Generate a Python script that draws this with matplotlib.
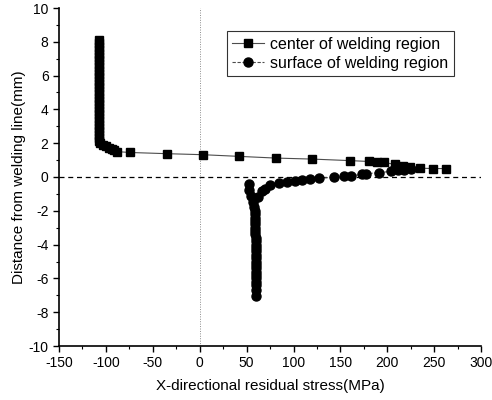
import matplotlib.pyplot as plt

plt.rcParams['font.family'] = ['Liberation Sans', 'DejaVu Sans']
plt.rcParams['axes.unicode_minus'] = False

##==============================================================================

# Data

# center of welding region (squares)
center_x = [-107, -107, -107, -107, -107, -107, -107, -107, -107, -107,
            -107, -107, -107, -107, -107, -107, -107, -107, -107, -107,
            -107, -107, -107, -107, -107, -107, -107, -107, -107, -107,
            -107, -106,
            -103, -100, -97, -94, -91, -88,
            -74, -35, 3, 42, 81, 120, 160, 180, 189, 196,
            208, 217, 224, 235, 249, 263]
center_y = [8.1, 7.9, 7.7, 7.5, 7.3, 7.1, 6.9, 6.7, 6.5, 6.3,
            6.1, 5.9, 5.7, 5.5, 5.3, 5.1, 4.9, 4.7, 4.5, 4.3,
            4.1, 3.9, 3.7, 3.5, 3.3, 3.1, 2.9, 2.7, 2.5, 2.3,
            2.15, 2.0,
            1.9, 1.82, 1.74, 1.66, 1.58, 1.5,
            1.45, 1.38, 1.32, 1.22, 1.12, 1.06, 0.97, 0.92, 0.9, 0.86,
            0.75, 0.68, 0.6, 0.52, 0.5, 0.5]

# surface of welding region (circles)
surface_x = [52, 53, 55, 57, 58, 59, 59, 59, 59, 59, 59, 59, 59, 60, 60,
             60, 60, 60, 60, 60, 60, 60, 60, 60, 60, 60, 60, 60, 60, 60,
             62, 66, 70, 75, 84, 93, 102, 109, 118, 127, 143, 154, 161,
             173, 177, 191, 204, 211, 218, 225]
surface_y = [-0.4, -0.75, -1.1, -1.45, -1.75, -2.0, -2.2, -2.4, -2.6,
             -2.8, -3.0, -3.2, -3.4, -3.6, -3.8, -4.0, -4.2, -4.4, -4.6,
             -4.8, -5.0, -5.2, -5.4, -5.6, -5.8, -6.0, -6.2, -6.4, -6.7,
             -7.05,
             -1.2, -0.85, -0.7, -0.45, -0.35, -0.29, -0.21, -0.15, -0.11,
             -0.08, -0.01, 0.05, 0.08, 0.15, 0.2, 0.25, 0.34, 0.39, 0.43, 0.47]

xticks = [-150, -100, -50, 0, 50, 100, 150, 200, 250, 300]
yticks = [-10, -8, -6, -4, -2, 0, 2, 4, 6, 8, 10]

##==============================================================================

# plotting

fig = plt.figure(figsize=(4.92, 4.0), dpi=100)
ax = fig.add_axes([0.12, 0.135, 0.858, 0.845])

ax.axhline(0, color='k', lw=0.9, ls=(0, (4, 3)), zorder=1)
ax.axvline(0, color='0.55', lw=0.7, ls=(0, (1, 1.5)), zorder=1)

ax.plot(center_x, center_y, color='0.3', lw=0.8, marker='s', ms=6,
        mfc='k', mec='k', label='center of welding region', zorder=3)
ax.plot(surface_x, surface_y, color='0.3', lw=0.8, ls=(0, (3, 1.5)),
        marker='o', ms=6.5, mfc='k', mec='k',
        label='surface of welding region', zorder=3)

ax.set_xlim(-150, 300)
ax.set_ylim(-10, 10)
ax.set_xticks(xticks)
ax.set_yticks(yticks)
ax.set_xticks(range(-125, 300, 50), minor=True)
ax.set_yticks(range(-9, 10, 2), minor=True)
ax.tick_params(which='major', direction='out', length=4, width=1,
               labelsize=10)
ax.tick_params(which='minor', direction='out', length=2, width=0.8)

ax.spines['top'].set_visible(False)
ax.spines['right'].set_visible(False)
ax.spines['left'].set_linewidth(1.2)
ax.spines['bottom'].set_linewidth(1.2)

ax.set_xlabel('X-directional residual stress(MPa)', fontsize=11, labelpad=6)
ax.set_ylabel('Distance from welding line(mm)', fontsize=11, labelpad=2)

leg = ax.legend(loc='upper right', bbox_to_anchor=(0.955, 0.955),
                fontsize=11.5, frameon=True, fancybox=False,
                handlelength=2.0, handletextpad=0.4, borderpad=0.35,
                labelspacing=0.25)
leg.get_frame().set_edgecolor('k')
leg.get_frame().set_linewidth(0.8)

fig.savefig('out.png', dpi=100)
